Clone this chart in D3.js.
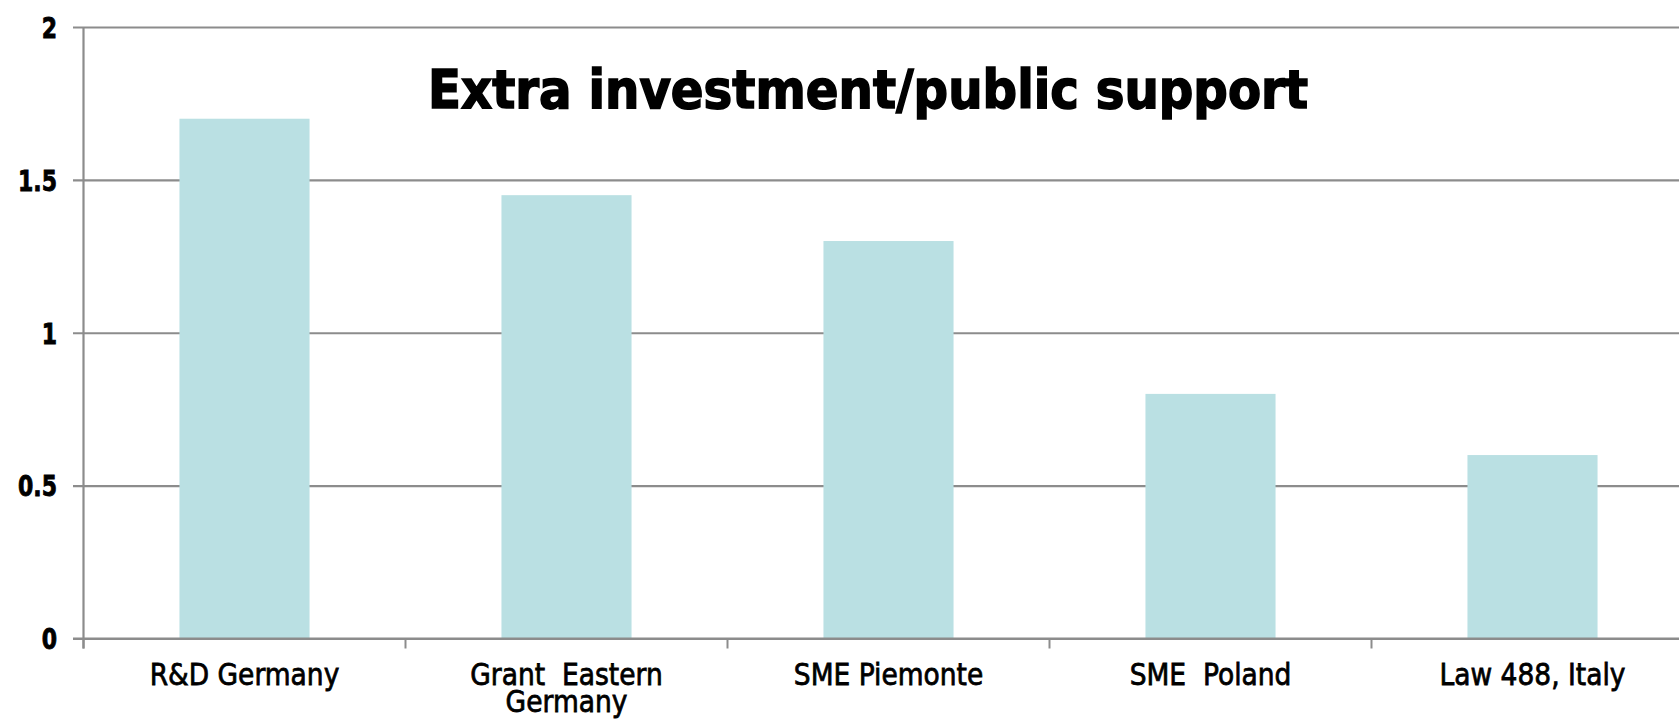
<!DOCTYPE html>
<html>
<head>
<meta charset="utf-8">
<script src="https://cdn.jsdelivr.net/npm/d3@7"></script>
<style>
  html, body { margin: 0; padding: 0; background: #fff; }
  svg { display: block; }
  text { white-space: pre; }
</style>
</head>
<body>
<svg id="chart" width="1679" height="720"></svg>
<script>
// Chart data
const categories = ["R&D Germany", "Grant  Eastern\nGermany", "SME Piemonte", "SME  Poland", "Law 488, Italy"];
const values = [1.7, 1.45, 1.3, 0.8, 0.6];
const yTicks = [0, 0.5, 1, 1.5, 2];
const yTickLabels = ["0", "0.5", "1", "1.5", "2"];
const title = "Extra investment/public support";

const W = 1679, H = 720;
const axisX = 83.5;          // vertical axis position
const cellW = 322;           // width of one category slot
const svg = d3.select("#chart");

const x = d3.scaleBand()
  .domain(categories)
  .range([axisX, axisX + cellW * categories.length])
  .paddingInner(0.596)
  .paddingOuter(0.298);

const y = d3.scaleLinear().domain([0, 2]).range([638.5, 27]);

const gridColor = "#8c8c8c";
const fontFamily = "'DejaVu Sans', Verdana, sans-serif";

// Horizontal gridlines + value labels
const yAxis = d3.axisLeft(y)
  .tickValues(yTicks)
  .tickFormat((d, i) => yTickLabels[i])
  .tickSizeInner(-(W - 73))
  .tickSizeOuter(0)
  .tickPadding(16);

const gy = svg.append("g")
  .attr("transform", "translate(73,0)")
  .call(yAxis);
gy.select(".domain").remove();
gy.selectAll(".tick line")
  .attr("stroke", gridColor)
  .attr("stroke-width", 2.2);
gy.selectAll(".tick text")
  .attr("fill", "#000")
  .attr("stroke", "#000")
  .attr("stroke-width", 0.7)
  .attr("font-family", fontFamily)
  .attr("font-weight", "bold")
  .attr("font-size", 22)
  .attr("dy", null)
  .each(function () {
    const t = d3.select(this);
    const xx = +t.attr("x");
    t.attr("x", 0).attr("dy", "0.36em")
     .attr("transform", `translate(${xx},0) scale(1,1.3)`);
  });

// Vertical axis line
svg.append("line")
  .attr("x1", axisX).attr("x2", axisX)
  .attr("y1", y(2)).attr("y2", y(0) + 10)
  .attr("stroke", gridColor)
  .attr("stroke-width", 2.2);

// Category boundary ticks
const bounds = d3.range(categories.length + 1).map(i => x.range()[0] + i * x.step());
svg.append("g").selectAll("line")
  .data(bounds)
  .join("line")
  .attr("x1", d => d).attr("x2", d => d)
  .attr("y1", y(0)).attr("y2", y(0) + 10)
  .attr("stroke", gridColor)
  .attr("stroke-width", 2);

// Bars
svg.append("g").selectAll("rect")
  .data(values)
  .join("rect")
  .attr("x", (d, i) => x(categories[i]))
  .attr("width", x.bandwidth())
  .attr("y", d => y(d))
  .attr("height", d => y(0) - y(d))
  .attr("fill", "#bae0e3");

// Redraw the baseline over the bars
svg.append("line")
  .attr("x1", 73).attr("x2", W)
  .attr("y1", y(0)).attr("y2", y(0))
  .attr("stroke", gridColor)
  .attr("stroke-width", 2.2);

// Category labels (one text per line)
const lab = svg.append("g").selectAll("g")
  .data(categories)
  .join("g")
  .attr("transform", d => `translate(${x(d) + x.bandwidth() / 2},685) scale(1,1.13)`);
lab.each(function (d) {
  const lines = d.split("\n");
  d3.select(this).selectAll("text")
    .data(lines)
    .join("text")
    .attr("x", 0)
    .attr("y", (ln, k) => k * 24)
    .attr("text-anchor", "middle")
    .attr("font-family", fontFamily)
    .attr("font-size", 26.5)
    .attr("fill", "#000")
    .attr("stroke", "#000")
    .attr("stroke-width", 0.7)
    .text(ln => ln);
});

// Title
svg.append("g")
  .attr("transform", "translate(868,108) scale(1,1.25)")
  .append("text")
  .attr("text-anchor", "middle")
  .attr("font-family", fontFamily)
  .attr("font-weight", "bold")
  .attr("font-size", 42)
  .attr("textLength", 880)
  .attr("lengthAdjust", "spacingAndGlyphs")
  .attr("fill", "#000")
  .attr("stroke", "#000")
  .attr("stroke-width", 1.3)
  .text(title);
</script>
</body>
</html>
